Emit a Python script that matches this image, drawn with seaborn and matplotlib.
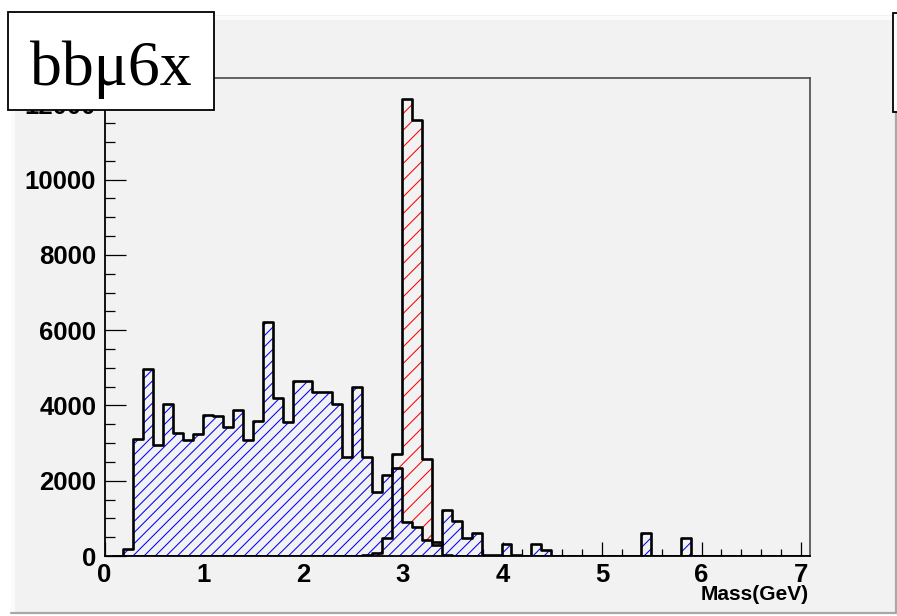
import numpy as np
import pandas as pd
import matplotlib
matplotlib.use("Agg")
import matplotlib.pyplot as plt
from matplotlib.patches import Rectangle
from matplotlib.ticker import MultipleLocator
import seaborn as sns

# Binning of the mass histograms (GeV)
BIN_WIDTH = 0.1
X_MIN, X_MAX = 0.09, 7.09

# Background / combinatorial sample: bin centres and entries
bkg_mass = [0.24, 0.34, 0.44, 0.54, 0.64, 0.74, 0.84, 0.94, 1.04, 1.14,
            1.24, 1.34, 1.44, 1.54, 1.64, 1.74, 1.84, 1.94, 2.04, 2.14,
            2.24, 2.34, 2.44, 2.54, 2.64, 2.74, 2.84, 2.94, 3.04, 3.14,
            3.24, 3.34, 3.44, 3.54, 3.64, 3.74, 3.84, 3.94, 4.04, 4.14,
            4.34, 4.44, 5.44, 5.84]
bkg_counts = [180, 3100, 4980, 2950, 4050, 3260, 3080, 3250, 3740, 3730,
              3430, 3890, 3080, 3580, 6210, 4190, 3550, 4660, 4660, 4370,
              4370, 4050, 2620, 4500, 2640, 1700, 2160, 2330, 910, 780,
              430, 290, 1220, 920, 470, 610, 20, 20, 320, 20,
              315, 170, 620, 470]

# J/psi signal sample: bin centres and entries
sig_mass = [2.64, 2.74, 2.84, 2.94, 3.04, 3.14, 3.24, 3.34, 3.44]
sig_counts = [30, 80, 470, 2720, 12130, 11580, 2580, 375, 30]

y_ticks = [0, 2000, 4000, 6000, 8000, 10000, 12000]
x_ticks = [0, 1, 2, 3, 4, 5, 6, 7]
x_label = "Mass(GeV)"
tag_text = "bb\u03bc6x"

PAD_GREY = "#f2f2f2"

sns.set_theme(style="ticks")
plt.rcParams["font.family"] = ["Liberation Sans", "DejaVu Sans"]
plt.rcParams["hatch.linewidth"] = 0.75

W, H = 897, 616
fig = plt.figure(figsize=(W / 100, H / 100), dpi=100)
fig.patch.set_facecolor("white")

# Canvas pad with a bevelled border (behind the axes)
fig.add_artist(Rectangle((11 / W, 3 / H), 886 / W, 598 / H, transform=fig.transFigure,
                         facecolor=PAD_GREY, edgecolor="none", zorder=-3))
fig.add_artist(plt.Line2D([11 / W, 896 / W], [598 / H, 598 / H], transform=fig.transFigure,
                          color="#fbfbfb", lw=3, zorder=-2))
fig.add_artist(plt.Line2D([13 / W, 13 / W], [4 / H, 600 / H], transform=fig.transFigure,
                          color="#fbfbfb", lw=3, zorder=-2))
fig.add_artist(plt.Line2D([11 / W, 897 / W], [3.5 / H, 3.5 / H], transform=fig.transFigure,
                          color="#a8a8a8", lw=1.6, zorder=-2))
fig.add_artist(plt.Line2D([895.5 / W, 895.5 / W], [3 / H, 505 / H], transform=fig.transFigure,
                          color="#a8a8a8", lw=1.6, zorder=-2))

left, right, bottom, top = 104.5, 810, 556, 78
ax = fig.add_axes([left / W, (H - bottom) / H, (right - left) / W, (bottom - top) / H])
ax.set_facecolor(PAD_GREY)

samples = [
    # (mass, entries, hatch colour, hatch, fill under hatch)
    (sig_mass, sig_counts, "#ff0000", "//", "none"),
    (bkg_mass, bkg_counts, "#0000ff", "///", PAD_GREY),
]

# Hatched fills: signal first, background drawn over it
for mass, counts, col, hatch, face in samples:
    df = pd.DataFrame({"mass": mass, "entries": counts})
    n_before = len(ax.collections)
    sns.histplot(data=df, x="mass", weights="entries", binwidth=BIN_WIDTH,
                 binrange=(X_MIN, X_MAX), element="step", fill=True, ax=ax, color=col)
    for coll in ax.collections[n_before:]:
        coll.set_facecolor(face)
        coll.set_edgecolor(col)
        coll.set_linewidth(0)
        coll.set_hatch(hatch)

# Black outlines of both histograms on top
for mass, counts, *_ in samples:
    df = pd.DataFrame({"mass": mass, "entries": counts})
    sns.histplot(data=df, x="mass", weights="entries", binwidth=BIN_WIDTH,
                 binrange=(X_MIN, X_MAX), element="step", fill=False, ax=ax,
                 color="black", linewidth=1.9)

ax.set_xlim(0, 7.09)
ax.set_ylim(0, 12700)
ax.set_xticks(x_ticks)
ax.set_yticks(y_ticks)
ax.set_xticklabels([str(v) for v in x_ticks])
ax.set_yticklabels([str(v) for v in y_ticks])
ax.xaxis.set_minor_locator(MultipleLocator(0.2))
ax.yaxis.set_minor_locator(MultipleLocator(500))
ax.set_xlabel("")
ax.set_ylabel("")

for lbl in ax.get_xticklabels() + ax.get_yticklabels():
    lbl.set_fontweight("bold")
    lbl.set_fontsize(18.5)
    lbl.set_color("black")

ax.tick_params(axis="x", which="major", direction="in", length=10, width=0.9,
               color="black", pad=5, top=False)
ax.tick_params(axis="x", which="minor", direction="in", length=5, width=0.9,
               color="black", top=False)
ax.tick_params(axis="y", which="major", direction="in", length=15, width=0.9,
               color="black", pad=6, right=False)
ax.tick_params(axis="y", which="minor", direction="in", length=7.5, width=0.9,
               color="black", right=False)

for side in ["left", "bottom"]:
    ax.spines[side].set_color("black")
    ax.spines[side].set_linewidth(1.3)
for side in ["top", "right"]:
    ax.spines[side].set_visible(True)
    ax.spines[side].set_color("#4a4a4a")
    ax.spines[side].set_linewidth(1.2)

fig.text(809 / W, (H - 595) / H, x_label, ha="right", va="center",
         fontsize=15, fontweight="bold", color="black")

# Title tag box in the top-left corner
tag_box = Rectangle((8 / W, (H - 110) / H), 206 / W, 98 / H, transform=fig.transFigure,
                    facecolor="white", edgecolor="black", linewidth=1.3, zorder=10)
fig.add_artist(tag_box)
fig.text(111 / W, (H - 85) / H, tag_text, ha="center", va="baseline",
         fontsize=46, family=["Liberation Serif", "DejaVu Serif"], color="black",
         zorder=11)

# Edge of the statistics box on the right
stat_box = Rectangle((893 / W, (H - 112) / H), 30 / W, 99 / H, transform=fig.transFigure,
                     facecolor="white", edgecolor="black", linewidth=1.3, zorder=10,
                     clip_on=False)
fig.add_artist(stat_box)

fig.savefig("out.png", dpi=100, facecolor=fig.get_facecolor())
